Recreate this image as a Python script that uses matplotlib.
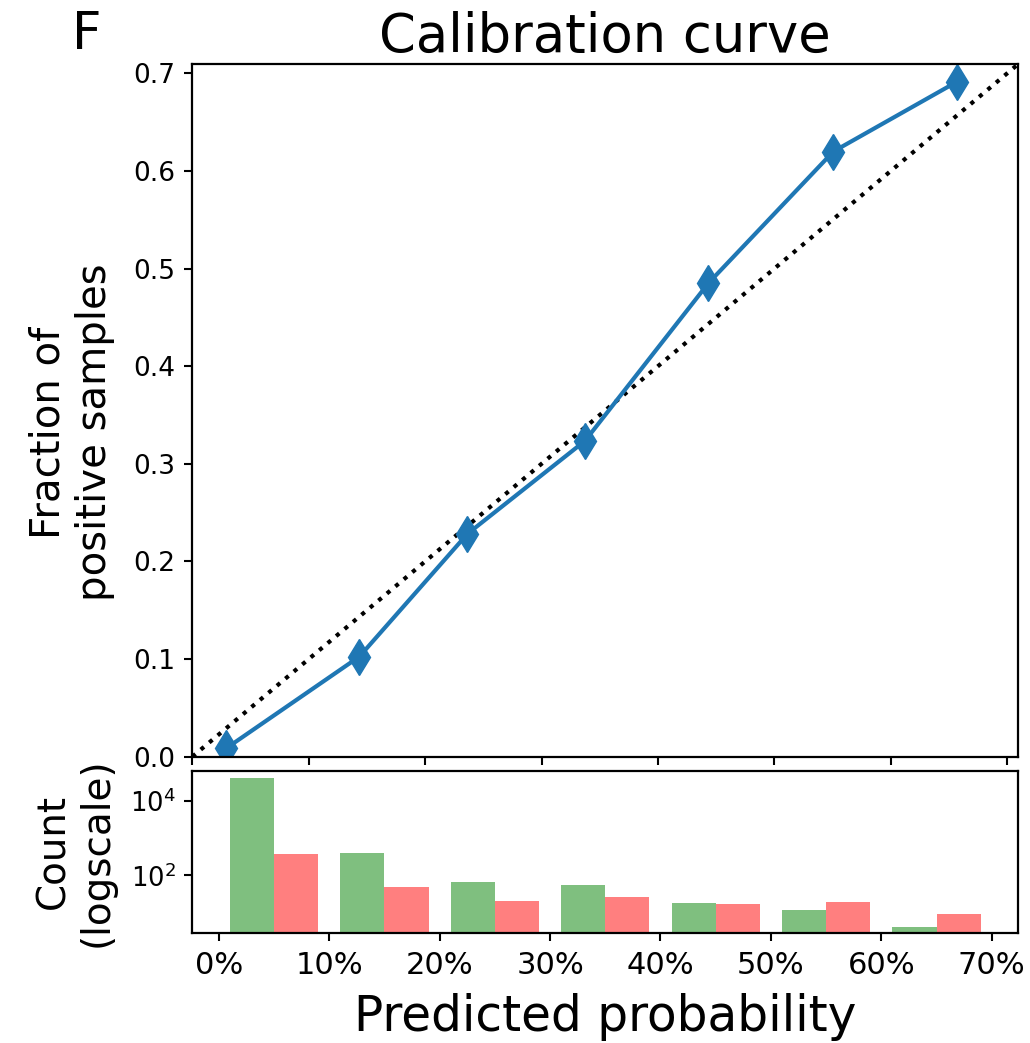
import numpy as np
import matplotlib
matplotlib.use("Agg")
import matplotlib.pyplot as plt
from matplotlib.ticker import PercentFormatter, NullLocator, FixedLocator

# ---- data ----
mean_predicted = [0.029, 0.1435, 0.2363, 0.3373, 0.4433, 0.5507, 0.6572]
fraction_positive = [0.0085, 0.1025, 0.2282, 0.3235, 0.4850, 0.6199, 0.6916]
bin_edges = [0.0, 0.1, 0.2, 0.3, 0.4, 0.5, 0.6, 0.7]
count_green = [42400, 405, 65, 55, 18, 12, 4]
count_red = [367, 48, 20, 26, 17, 19, 9]
y_ticks = [0.0, 0.1, 0.2, 0.3, 0.4, 0.5, 0.6, 0.7]
x_ticks = [0.0, 0.1, 0.2, 0.3, 0.4, 0.5, 0.6, 0.7]
lim = 0.7095

plt.rcParams['font.family'] = ['DejaVu Sans']

fig = plt.figure(figsize=(10.30, 10.43), dpi=100)
ax = fig.add_axes([0.1867, 0.2745, 0.8019, 0.6641])
ax2 = fig.add_axes([0.1867, 0.1052, 0.8019, 0.1559])

for a in (ax, ax2):
    for s in a.spines.values():
        s.set_linewidth(1.6)
    a.tick_params(width=1.5, length=6, direction='out')

# calibration curve
ax.plot([0, 1], [0, 1], 'k:', lw=3)
ax.plot(mean_predicted, fraction_positive, marker='d', color='#1f77b4',
        lw=3, markersize=18)
ax.set_xlim(0, lim)
ax.set_ylim(0, lim)
ax.set_yticks(y_ticks)
ax.set_yticklabels([f"{v:.1f}" for v in y_ticks])
ax.set_xticks(x_ticks)
ax.set_xticklabels([])
ax.tick_params(axis='y', labelsize=19, pad=6)
ax.set_title("Calibration curve", fontsize=38, pad=9)
ax.set_ylabel("Fraction of\npositive samples", fontsize=29, va='center',
              linespacing=1.2)
ax.yaxis.set_label_coords(-0.146, 0.468)

# histogram
centers = [(bin_edges[i] + bin_edges[i + 1]) / 2 for i in range(len(bin_edges) - 1)]
ax2.hist([centers, centers], bins=bin_edges, weights=[count_green, count_red],
         color=['green', 'red'], alpha=0.5, log=True)
ax2.set_ylim(2.75, 65400)
ax2.yaxis.set_major_locator(FixedLocator([1e2, 1e4]))
ax2.yaxis.set_minor_locator(NullLocator())
ax2.xaxis.set_major_locator(FixedLocator(x_ticks))
ax2.xaxis.set_major_formatter(PercentFormatter(xmax=1, decimals=0))
ax2.tick_params(axis='y', labelsize=18.5, pad=6)
ax2.tick_params(axis='x', labelsize=22, pad=7)
ax2.set_ylabel("Count\n(logscale)", fontsize=28, va='center', linespacing=1.2)
ax2.yaxis.set_label_coords(-0.142, 0.5)
ax2.set_xlabel("Predicted probability", fontsize=35, va='center')
ax2.xaxis.set_label_coords(0.5, -0.515)

fig.text(0.070, 0.990, "F", fontsize=37, ha='left', va='top')

fig.savefig("out.png", dpi=100)
